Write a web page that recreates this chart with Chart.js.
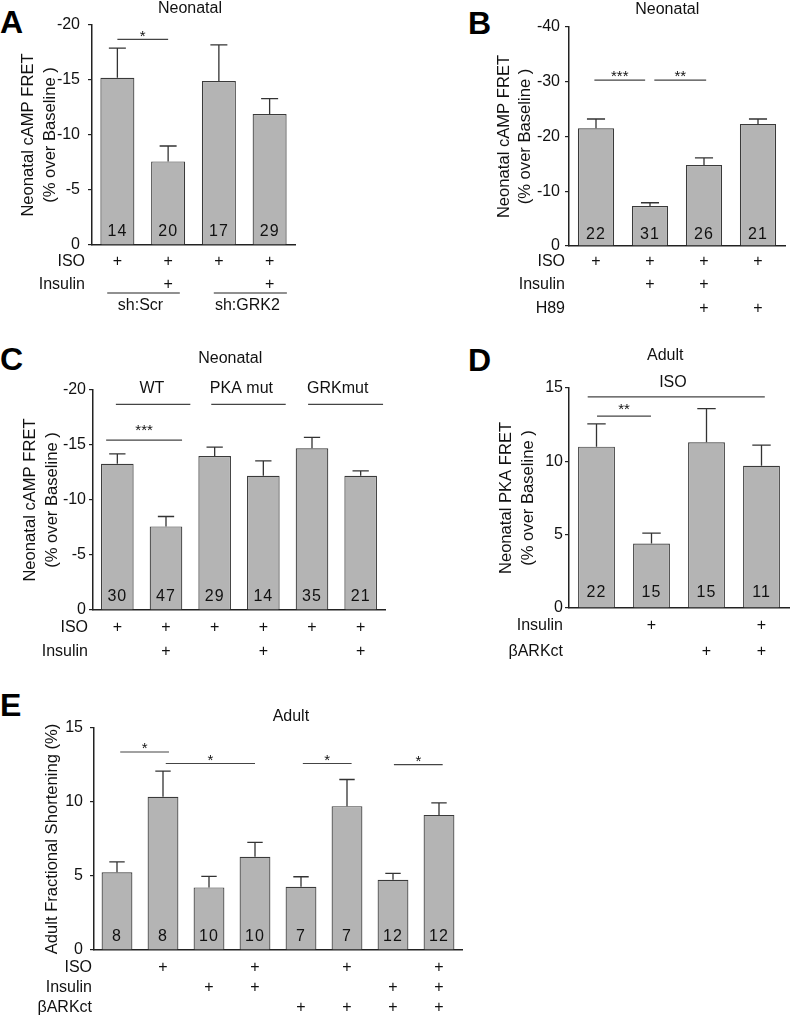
<!DOCTYPE html>
<html>
<head>
<meta charset="utf-8">
<script src="https://cdn.jsdelivr.net/npm/chart.js@4.4.0/dist/chart.umd.min.js"></script>
<style>
body { margin: 0; background: #fff; width: 792px; height: 1017px; position: relative; overflow: hidden; font-family: "Liberation Sans", Arial, sans-serif; }
canvas { position: absolute; }
.letter { position: absolute; font-weight: bold; font-size: 32px; line-height: 32px; color: #000; }
</style>
</head>
<body>
<div class="letter" style="left:0px;top:6px">A</div>
<div class="letter" style="left:468px;top:7px">B</div>
<div class="letter" style="left:0px;top:343px">C</div>
<div class="letter" style="left:468px;top:344px">D</div>
<div class="letter" style="left:0px;top:689px">E</div>

<canvas id="chartA" width="300" height="320" style="left:0px;top:0px"></canvas>
<canvas id="chartB" width="396" height="320" style="left:396px;top:0px"></canvas>
<canvas id="chartC" width="396" height="340" style="left:0px;top:320px"></canvas>
<canvas id="chartD" width="396" height="340" style="left:396px;top:320px"></canvas>
<canvas id="chartE" width="470" height="357" style="left:0px;top:660px"></canvas>

<script>
var FONT = '"Liberation Sans", Arial, sans-serif';

// ---- panel A : neonatal cAMP FRET, shRNA ----
var aLabels = ['Scr ISO', 'Scr ISO+Ins', 'GRK2 ISO', 'GRK2 ISO+Ins'];
var aMean = [-15.2, -7.6, -14.9, -11.9];
var aSem = [2.7, 1.4, 3.3, 1.4];
var aN = ['14', '20', '17', '29'];
var aIso = ['+', '+', '+', '+'];
var aInsulin = ['', '+', '', '+'];
var aTicks = [-20, -15, -10, -5, 0];

// ---- panel B : neonatal cAMP FRET, H89 ----
var bLabels = ['ISO', 'ISO+Ins', 'ISO+Ins+H89', 'ISO+H89'];
var bMean = [-21.5, -7.3, -14.8, -22.3];
var bSem = [1.7, 0.6, 1.3, 0.9];
var bN = ['22', '31', '26', '21'];
var bIso = ['+', '+', '+', '+'];
var bInsulin = ['', '+', '+', ''];
var bH89 = ['', '', '+', '+'];
var bTicks = [-40, -30, -20, -10, 0];

// ---- panel C : neonatal cAMP FRET, mutants ----
var cLabels = ['WT ISO', 'WT ISO+Ins', 'PKA ISO', 'PKA ISO+Ins', 'GRK ISO', 'GRK ISO+Ins'];
var cMean = [-13.3, -7.6, -14.0, -12.2, -14.7, -12.2];
var cSem = [0.9, 0.9, 0.8, 1.35, 1.0, 0.45];
var cN = ['30', '47', '29', '14', '35', '21'];
var cIso = ['+', '+', '+', '+', '+', '+'];
var cInsulin = ['', '+', '', '+', '', '+'];
var cTicks = [-20, -15, -10, -5, 0];

// ---- panel D : adult PKA FRET ----
var dLabels = ['ISO', 'ISO+Ins', 'ISO+ctd', 'ISO+Ins+ctd'];
var dMean = [11.0, 4.4, 11.3, 9.7];
var dSem = [1.55, 0.7, 2.3, 1.4];
var dN = ['22', '15', '15', '11'];
var dInsulin = ['', '+', '', '+'];
var dBark = ['', '', '+', '+'];
var dTicks = [0, 5, 10, 15];

// ---- panel E : adult fractional shortening ----
var eLabels = ['ctl', 'ISO', 'Ins', 'ISO+Ins', 'ct', 'ct ISO', 'ct Ins', 'ct ISO+Ins'];
var eMean = [5.25, 10.35, 4.23, 6.3, 4.27, 9.72, 4.75, 9.13];
var eSem = [0.7, 1.73, 0.74, 0.97, 0.68, 1.8, 0.43, 0.81];
var eN = ['8', '8', '10', '10', '7', '7', '12', '12'];
var eIso = ['', '+', '', '+', '', '+', '', '+'];
var eInsulin = ['', '', '+', '+', '', '', '+', '+'];
var eBark = ['', '', '', '', '+', '+', '+', '+'];
var eTicks = [0, 5, 10, 15];

Chart.defaults.font.family = FONT;
Chart.defaults.color = '#111';
Chart.defaults.animation = false;

function makeAnnot(p) {
    return {
        id: 'annot',
        afterDatasetsDraw: function (chart) {
            var c = chart.ctx;
            var xs = chart.scales.x, ys = chart.scales.y, area = chart.chartArea;
            var bars = chart.getDatasetMeta(0).data;
            c.save();

            // error bars (upper only)
            c.strokeStyle = '#333';
            c.lineWidth = 1.3;
            bars.forEach(function (bar, i) {
                var m = p.mean[i];
                var end = ys.getPixelForValue(m + (m < 0 ? -p.sem[i] : p.sem[i]));
                var half = bar.width / 4;
                c.beginPath();
                c.moveTo(bar.x, bar.y);
                c.lineTo(bar.x, end);
                c.moveTo(bar.x - half, end);
                c.lineTo(bar.x + half, end);
                c.stroke();
            });

            // n inside bars
            c.fillStyle = '#111';
            c.textAlign = 'center';
            c.textBaseline = 'middle';
            c.font = '16px ' + FONT;
            c.letterSpacing = '1px';
            bars.forEach(function (bar, i) {
                c.fillText(p.n[i], bar.x, area.bottom - p.nDy);
            });
            c.letterSpacing = '0px';

            // title
            c.font = '16px ' + FONT;
            c.fillText(p.title[0], xs.getPixelForValue(p.title[1]), ys.getPixelForValue(p.title[2]));

            // significance lines and stars
            (p.sigs || []).forEach(function (s) {
                var y = ys.getPixelForValue(s.y);
                var x1 = xs.getPixelForValue(s.x1), x2 = xs.getPixelForValue(s.x2);
                c.strokeStyle = '#444';
                c.lineWidth = 1.2;
                c.beginPath();
                c.moveTo(x1, y);
                c.lineTo(x2, y);
                c.stroke();
                if (s.text) {
                    c.font = '15px ' + FONT;
                    c.textBaseline = 'alphabetic';
                    c.fillText(s.text, (x1 + x2) / 2, y + (s.dy === undefined ? 1 : s.dy));
                }
            });

            // free labels in data space
            c.textBaseline = 'middle';
            (p.texts || []).forEach(function (t) {
                c.font = '16px ' + FONT;
                c.fillText(t.text, xs.getPixelForValue(t.x), ys.getPixelForValue(t.y));
            });

            // rows of + under the axis
            p.rows.forEach(function (r) {
                var y = area.bottom + r.dy;
                c.font = '16px ' + FONT;
                c.textAlign = 'right';
                c.fillText(r.label, area.left - p.rowGap, y);
                c.textAlign = 'center';
                r.marks.forEach(function (s, i) {
                    if (s) c.fillText(s, xs.getPixelForValue(i), y);
                });
            });

            // group brackets under the rows
            (p.groups || []).forEach(function (g) {
                var x1 = xs.getPixelForValue(g.x1), x2 = xs.getPixelForValue(g.x2);
                var y = area.bottom + g.dy;
                c.strokeStyle = '#222';
                c.lineWidth = 1.2;
                c.beginPath();
                c.moveTo(x1, y);
                c.lineTo(x2, y);
                c.stroke();
                c.font = '16px ' + FONT;
                c.textAlign = 'center';
                c.fillText(g.text, (x1 + x2) / 2 - 3, area.bottom + g.tdy);
            });
            c.restore();
        }
    };
}

function makePanel(id, p) {
    var ctx = document.getElementById(id).getContext('2d');
    return new Chart(ctx, {
        type: 'bar',
        data: {
            labels: p.labels,
            datasets: [{
                data: p.mean,
                backgroundColor: '#b4b4b4',
                borderColor: '#3a3a3a',
                borderWidth: 1.2,
                barPercentage: 0.67,
                categoryPercentage: 1
            }]
        },
        options: {
            responsive: false,
            devicePixelRatio: 1,
            layout: { padding: p.pad },
            plugins: { legend: { display: false }, tooltip: { enabled: false } },
            scales: {
                x: {
                    grid: { display: false },
                    ticks: { display: false },
                    border: { color: '#222', width: 1.5 },
                    afterFit: function (s) { s.height = 0; }
                },
                y: {
                    min: p.ticks[0] < 0 ? p.ticks[0] : 0,
                    max: p.ticks[0] < 0 ? 0 : p.ticks[p.ticks.length - 1],
                    reverse: p.reverse,
                    afterBuildTicks: function (s) { s.ticks = p.ticks.map(function (v) { return { value: v }; }); },
                    ticks: { font: { size: 16 }, padding: p.tickPad, color: '#111' },
                    grid: { drawOnChartArea: false, tickLength: 4, color: '#222', lineWidth: 1.2 },
                    border: { color: '#222', width: 1.5 },
                    title: {
                        display: true,
                        text: p.yTitle,
                        color: '#111',
                        font: { size: 16.6, lineHeight: p.titleLH },
                        padding: { top: p.titlePad, bottom: 0 }
                    },
                    afterFit: function (s) { s.width = p.yw; }
                }
            }
        },
        plugins: [makeAnnot(p)]
    });
}

makePanel('chartA', {
    labels: aLabels, mean: aMean, sem: aSem, n: aN, ticks: aTicks, reverse: true,
    pad: { top: 25, right: 5, bottom: 75, left: 0 }, yw: 92, tickPad: 8,
    yTitle: ['Neonatal cAMP FRET', '(% over Baseline )'], titleLH: 1.33, titlePad: 17,
    nDy: 13, title: ['Neonatal', 1.43, -21.5],
    sigs: [{ x1: 0, x2: 1, y: -18.7, text: '*', dy: 2 }],
    rows: [{ label: 'ISO', marks: aIso, dy: 17 }, { label: 'Insulin', marks: aInsulin, dy: 40 }], rowGap: 7,
    groups: [{ x1: -0.2, x2: 1.23, dy: 48, tdy: 61, text: 'sh:Scr' }, { x1: 1.9, x2: 3.34, dy: 48, tdy: 61, text: 'sh:GRK2' }]
});

makePanel('chartB', {
    labels: bLabels, mean: bMean, sem: bSem, n: bN, ticks: bTicks, reverse: true,
    pad: { top: 27, right: 7, bottom: 74, left: 0 }, yw: 173, tickPad: 5,
    yTitle: ['Neonatal cAMP FRET', '(% over Baseline )'], titleLH: 1.25, titlePad: 98,
    nDy: 11, title: ['Neonatal', 1.32, -43.2],
    sigs: [{ x1: -0.03, x2: 0.91, y: -30.3, text: '***' }, { x1: 1.08, x2: 2.04, y: -30.3, text: '**' }],
    rows: [{ label: 'ISO', marks: bIso, dy: 16 }, { label: 'Insulin', marks: bInsulin, dy: 39 }, { label: 'H89', marks: bH89, dy: 63 }], rowGap: 4
});

makePanel('chartC', {
    labels: cLabels, mean: cMean, sem: cSem, n: cN, ticks: cTicks, reverse: true,
    pad: { top: 70, right: 11, bottom: 50, left: 0 }, yw: 93, tickPad: 3,
    yTitle: ['Neonatal cAMP FRET', '(% over Baseline )'], titleLH: 1.33, titlePad: 19,
    nDy: 13, title: ['Neonatal', 2.32, -22.9],
    sigs: [
        { x1: -0.23, x2: 1.33, y: -15.45, text: '***', dy: -5 },
        { x1: -0.03, x2: 1.5, y: -18.7 },
        { x1: 1.93, x2: 3.46, y: -18.7 },
        { x1: 3.92, x2: 5.46, y: -18.7 }
    ],
    texts: [{ text: 'WT', x: 0.71, y: -20.15 }, { text: 'PKA mut', x: 2.55, y: -20.15 }, { text: 'GRKmut', x: 4.53, y: -20.15 }],
    rows: [{ label: 'ISO', marks: cIso, dy: 18 }, { label: 'Insulin', marks: cInsulin, dy: 42 }], rowGap: 5
});

makePanel('chartD', {
    labels: dLabels, mean: dMean, sem: dSem, n: dN, ticks: dTicks, reverse: false,
    pad: { top: 68, right: 3, bottom: 52, left: 0 }, yw: 173, tickPad: 2,
    yTitle: ['Neonatal PKA FRET', '(% over Baseline )'], titleLH: 1.35, titlePad: 99,
    nDy: 15, title: ['Adult', 1.25, 17.2],
    sigs: [{ x1: -0.16, x2: 3.06, y: 14.4 }, { x1: 0.01, x2: 0.99, y: 13.08, text: '**', dy: -2 }],
    texts: [{ text: 'ISO', x: 1.39, y: 15.4 }],
    rows: [{ label: 'Insulin', marks: dInsulin, dy: 18 }, { label: '\u03B2ARKct', marks: dBark, dy: 44 }], rowGap: 6
});

makePanel('chartE', {
    labels: eLabels, mean: eMean, sem: eSem, n: eN, ticks: eTicks, reverse: false,
    pad: { top: 68, right: 8, bottom: 67, left: 0 }, yw: 94, tickPad: 7,
    yTitle: 'Adult Fractional Shortening (%)', titleLH: 1.2, titlePad: 42,
    nDy: 13, title: ['Adult', 3.78, 15.8],
    sigs: [
        { x1: 0.07, x2: 1.13, y: 13.38, text: '*' },
        { x1: 1.06, x2: 3.0, y: 12.6, text: '*' },
        { x1: 4.04, x2: 5.1, y: 12.6, text: '*' },
        { x1: 6.02, x2: 7.08, y: 12.53, text: '*' }
    ],
    rows: [{ label: 'ISO', marks: eIso, dy: 18 }, { label: 'Insulin', marks: eInsulin, dy: 38 }, { label: '\u03B2ARKct', marks: eBark, dy: 58 }], rowGap: 2
});
</script>
</body>
</html>
